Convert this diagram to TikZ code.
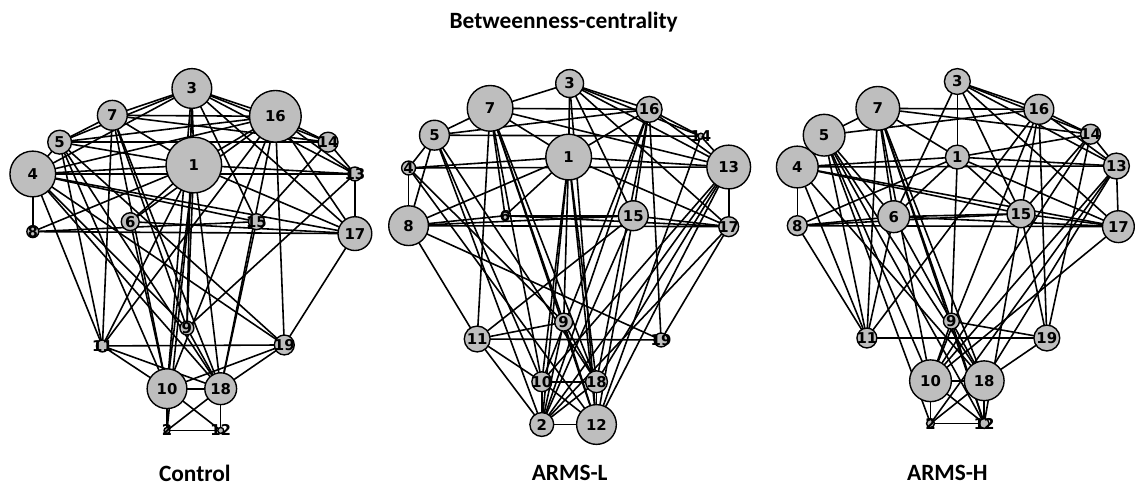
\documentclass[tikz,border=0pt]{standalone}
\usepackage{fontspec}
\setmainfont{Carlito}
\newfontfamily\numfont{DejaVu Sans}
\pgfdeclarelayer{back}
\pgfdeclarelayer{bg}
\pgfsetlayers{back,bg,main}
\definecolor{ngray}{RGB}{190,190,190}
\tikzset{
  nd/.style={circle,draw=black,line width=1.4pt,fill=ngray,inner sep=0pt},
  lbl/.style={font=\numfont\bfseries\fontsize{15}{15}\selectfont,inner sep=0pt},
  ed/.style={line width=1.6pt,draw=black},
  ttl/.style={font=\bfseries\fontsize{23.5}{23.5}\selectfont,inner sep=0pt}
}
\begin{document}
\begin{tikzpicture}[x=1pt,y=-1pt]
\begin{pgfonlayer}{back}
\useasboundingbox[fill=white] (0,0) rectangle (1135,494);
\end{pgfonlayer}
\node[ttl] (title) at (567,22) {Betweenness-centrality};
\node[ttl] (capP) at (196,476) {Control};
\node[ttl] (capQ) at (573,476) {ARMS-L};
\node[ttl] (capR) at (953,476) {ARMS-H};
% Control
\foreach \n/\x/\y/\r in {1/195/166/28,2/168/433/3,3/193/89/20,4/33/175/23,5/60/143/12,6/131/223/9,7/113/116/15,8/33/233/6,9/188/330/7,10/168/391/20,11/103/348/6,12/222/433/3,13/357/175/7,14/330/143/10,15/258/223/8,16/277/117/26,17/357/235/17,18/222/391/16,19/286/347/10}{
  \node[nd,minimum size={2*\r pt}] (P\n) at (\x,\y) {};
  \node[lbl] at (P\n) {\n};
}
% ARMS-L
\foreach \n/\x/\y/\r in {1/572/158/23,2/545/427/12,3/573/84/14,4/411/169/7,5/437/136/15,6/508/217/4,7/493/109/23,8/411/227/20,9/567/324/9,10/545/384/10,11/480/341/13,12/600/427/20,13/733/168/22,14/705/137/3,15/637/217/15,16/653/110/13,17/733/228/10,18/600/384/11,19/665/342/7}{
  \node[nd,minimum size={2*\r pt}] (Q\n) at (\x,\y) {};
  \node[lbl] at (Q\n) {\n};
}
% ARMS-H
\foreach \n/\x/\y/\r in {1/963/158/12,2/936/426/4,3/963/82/13,4/802/168/21,5/829/136/21,6/899/218/16,7/883/109/22,8/802/227/10,9/957/323/8,10/936/383/21,11/872/340/10,12/990/426/5,13/1123/167/13,14/1097/135/10,15/1027/215/14,16/1045/110/15,17/1125/228/16,18/990/383/20,19/1053/340/13}{
  \node[nd,minimum size={2*\r pt}] (R\n) at (\x,\y) {};
  \node[lbl] at (R\n) {\n};
}
\begin{pgfonlayer}{bg}
\foreach \a/\b in {3/7,3/5,3/4,3/16,3/14,3/13,3/17,3/1,3/15,3/10,3/9,
  7/5,7/16,7/14,7/1,7/11,7/10,7/18,7/9,
  5/4,5/16,5/14,5/1,5/11,5/10,5/19,5/18,
  4/1,4/13,4/8,4/17,4/15,4/16,4/11,4/9,4/19,4/18,
  1/16,1/13,1/17,1/6,1/8,1/10,1/9,1/18,1/11,1/2,
  16/14,16/13,16/17,16/6,16/19,16/10,16/18,16/11,
  14/13,14/15,13/17,13/9,
  8/17,8/15,6/17,6/10,15/18,
  17/19,11/19,11/10,11/18,9/18,
  10/18,10/2,10/12,18/2,18/12,2/12,10/19,18/19}
  \draw[ed] (P\a.center) -- (P\b.center);
\foreach \a/\b in {3/16,3/14,3/13,3/1,3/15,3/17,3/7,3/12,
  7/16,7/13,7/1,7/6,7/11,7/10,7/9,7/18,7/12,7/5,
  5/4,5/8,5/14,5/16,5/2,5/10,5/18,
  4/1,4/13,4/8,4/9,4/12,
  8/1,8/15,8/17,8/6,8/11,8/19,
  1/16,1/13,1/17,1/6,1/9,1/10,1/2,1/12,1/18,
  16/13,16/15,16/10,16/2,16/18,16/19,16/14,
  13/17,13/10,13/2,13/18,13/12,
  14/13,14/12,
  15/17,15/12,15/2,11/15,
  6/15,6/17,17/19,17/2,
  9/11,9/12,9/18,9/2,
  11/19,11/10,11/2,
  10/18,10/2,10/12,18/2,18/12,2/12}
  \draw[ed] (Q\a.center) -- (Q\b.center);
\foreach \a/\b in {3/16,3/14,3/13,3/17,3/15,3/1,3/6,
  7/16,7/14,7/5,7/1,7/6,7/11,7/10,7/9,7/18,7/12,
  5/4,5/11,5/10,5/18,5/12,5/6,5/2,5/16,
  4/1,4/13,4/15,4/17,4/8,4/18,4/11,
  8/1,8/6,8/15,8/17,8/11,
  1/13,1/15,1/17,1/6,1/9,1/14,
  16/14,16/15,16/10,16/19,16/13,16/11,
  14/15,14/13,14/19,14/10,
  13/17,13/10,13/18,13/2,
  15/17,15/19,15/12,
  6/15,6/17,6/11,6/18,
  17/10,
  9/10,9/19,9/12,
  11/19,
  10/18,10/2,10/12,18/2,18/12,2/12,18/19}
  \draw[ed] (R\a.center) -- (R\b.center);
\end{pgfonlayer}
\end{tikzpicture}
\end{document}
